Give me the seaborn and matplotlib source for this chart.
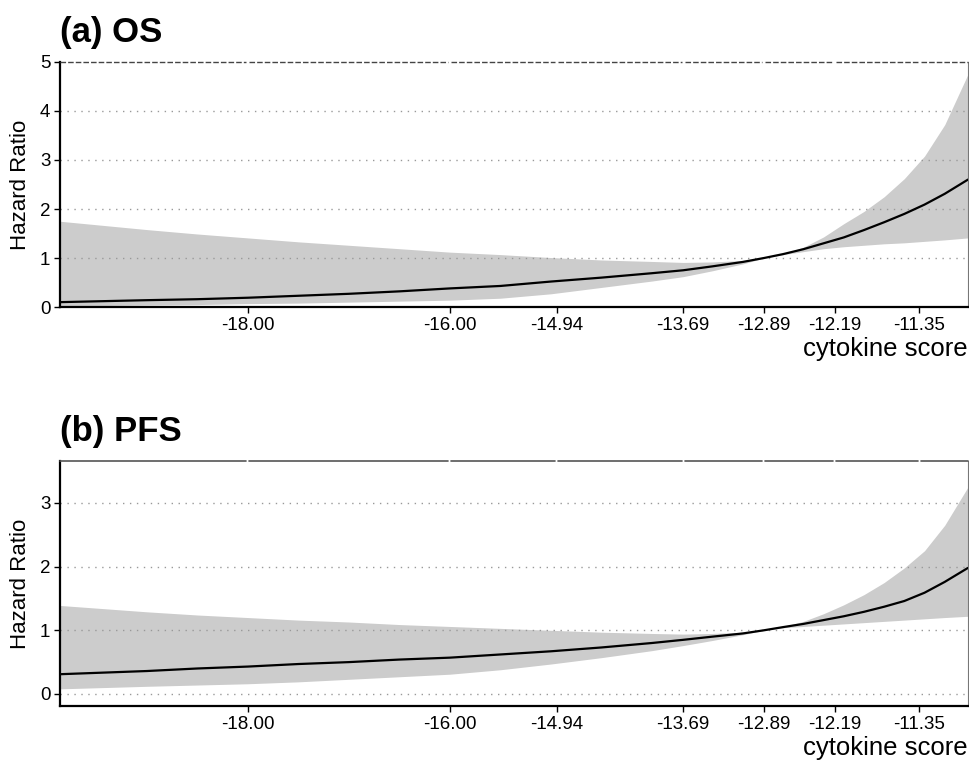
import matplotlib
matplotlib.use("Agg")
import matplotlib.pyplot as plt
import seaborn as sns
import pandas as pd

# ---- data ----
score = [-19.86, -19.0, -18.5, -18.0, -17.5, -17.0, -16.5, -16.0, -15.5, -15.0,
         -14.5, -14.0, -13.69, -13.4, -13.1, -12.89, -12.7, -12.5, -12.3, -12.1,
         -11.9, -11.7, -11.5, -11.3, -11.1, -10.87]

os_hr = [0.10, 0.14, 0.16, 0.19, 0.23, 0.27, 0.32, 0.38, 0.43, 0.52,
         0.60, 0.69, 0.75, 0.83, 0.92, 1.00, 1.08, 1.18, 1.30, 1.42,
         1.57, 1.73, 1.90, 2.09, 2.31, 2.60]
os_upper = [1.75, 1.58, 1.49, 1.41, 1.33, 1.26, 1.19, 1.12, 1.07, 1.01,
            0.96, 0.93, 0.91, 0.92, 0.95, 1.00, 1.08, 1.22, 1.43, 1.70,
            1.95, 2.25, 2.62, 3.08, 3.72, 4.75]
os_lower = [0.02, 0.04, 0.05, 0.07, 0.08, 0.10, 0.12, 0.14, 0.18, 0.27,
            0.40, 0.53, 0.62, 0.74, 0.88, 1.00, 1.07, 1.13, 1.19, 1.23,
            1.26, 1.29, 1.31, 1.34, 1.37, 1.41]

pfs_hr = [0.31, 0.36, 0.40, 0.43, 0.47, 0.50, 0.54, 0.57, 0.62, 0.67,
          0.73, 0.80, 0.85, 0.90, 0.95, 1.00, 1.05, 1.10, 1.16, 1.22,
          1.29, 1.37, 1.46, 1.59, 1.76, 1.98]
pfs_upper = [1.39, 1.29, 1.24, 1.20, 1.16, 1.13, 1.09, 1.06, 1.03, 1.00,
             0.97, 0.95, 0.94, 0.95, 0.97, 1.00, 1.06, 1.14, 1.26, 1.40,
             1.56, 1.75, 1.98, 2.25, 2.65, 3.25]
pfs_lower = [0.08, 0.12, 0.14, 0.16, 0.19, 0.23, 0.27, 0.31, 0.38, 0.47,
             0.57, 0.68, 0.76, 0.84, 0.93, 1.00, 1.04, 1.06, 1.08, 1.10,
             1.12, 1.14, 1.16, 1.18, 1.20, 1.22]

x_ticks = [-18.00, -16.00, -14.94, -13.69, -12.89, -12.19, -11.35]
x_tick_labels = ["-18.00", "-16.00", "-14.94", "-13.69", "-12.89", "-12.19", "-11.35"]

titles = ["(a) OS", "(b) PFS"]
x_label = "cytokine score"
y_label = "Hazard Ratio"

# ---- style ----
sns.set_theme(style="white")
plt.rcParams["font.family"] = ["Liberation Sans", "DejaVu Sans"]

fig = plt.figure(figsize=(9.7, 7.6), dpi=100)
ax_a = fig.add_axes([0.0619, 0.596, 0.936, 0.3225])
ax_b = fig.add_axes([0.0619, 0.071, 0.936, 0.3225])

panels = [
    (ax_a, os_hr, os_upper, os_lower, (0, 5), [0, 1, 2, 3, 4, 5], [1, 2, 3, 4], "dashed"),
    (ax_b, pfs_hr, pfs_upper, pfs_lower, (-0.19, 3.66), [0, 1, 2, 3], [0, 1, 2, 3], "solid"),
]

xmin, xmax = -19.86, -10.87

for (ax, hr, up, lo, ylim, yticks, grid_y, top_style), title in zip(panels, titles):
    df = pd.DataFrame({"score": score, "hr": hr, "upper": up, "lower": lo})
    ax.fill_between(df["score"], df["lower"], df["upper"], color="#cccccc", lw=0, zorder=1)
    sns.lineplot(data=df, x="score", y="hr", ax=ax, color="black", lw=1.6, zorder=3)

    for gy in grid_y:
        ax.axhline(gy, color="#999999", lw=1.0, ls=(0, (1, 4)), zorder=2)

    # top border segments with small gaps at tick positions
    edges = [xmin] + x_ticks + [xmax]
    gap = 0.015
    for a, b in zip(edges[:-1], edges[1:]):
        a2 = a + (gap if a != xmin else 0)
        b2 = b - (gap if b != xmax else 0)
        if top_style == "dashed":
            ax.plot([a2, b2], [ylim[1], ylim[1]], color="#444444", lw=1.0,
                    ls=(0, (4, 1.5)), zorder=4, clip_on=False)
        else:
            ax.plot([a2, b2], [ylim[1], ylim[1]], color="#555555", lw=1.2,
                    zorder=4, clip_on=False)

    ax.set_xlim(xmin, xmax)
    ax.set_ylim(*ylim)
    ax.set_xticks(x_ticks)
    ax.set_xticklabels(x_tick_labels)
    ax.set_yticks(yticks)
    ax.tick_params(axis="both", which="major", direction="out", length=4, width=1.0,
                   color="black", labelsize=13.5, labelcolor="black", pad=3,
                   bottom=True, left=True)

    ax.spines["top"].set_visible(False)
    ax.spines["left"].set_color("black")
    ax.spines["left"].set_linewidth(1.6)
    ax.spines["bottom"].set_color("black")
    ax.spines["bottom"].set_linewidth(1.6)
    ax.spines["right"].set_color("#777777")
    ax.spines["right"].set_linewidth(0.8)

    ax.set_xlabel(x_label, fontsize=18.5, loc="right", labelpad=2, color="black")
    ax.set_ylabel(y_label, fontsize=16, labelpad=6, color="black")
    ax.set_title(title, fontsize=25, fontweight="bold", loc="left", pad=14, color="black")

fig.savefig("out.png", dpi=100, facecolor="white")
